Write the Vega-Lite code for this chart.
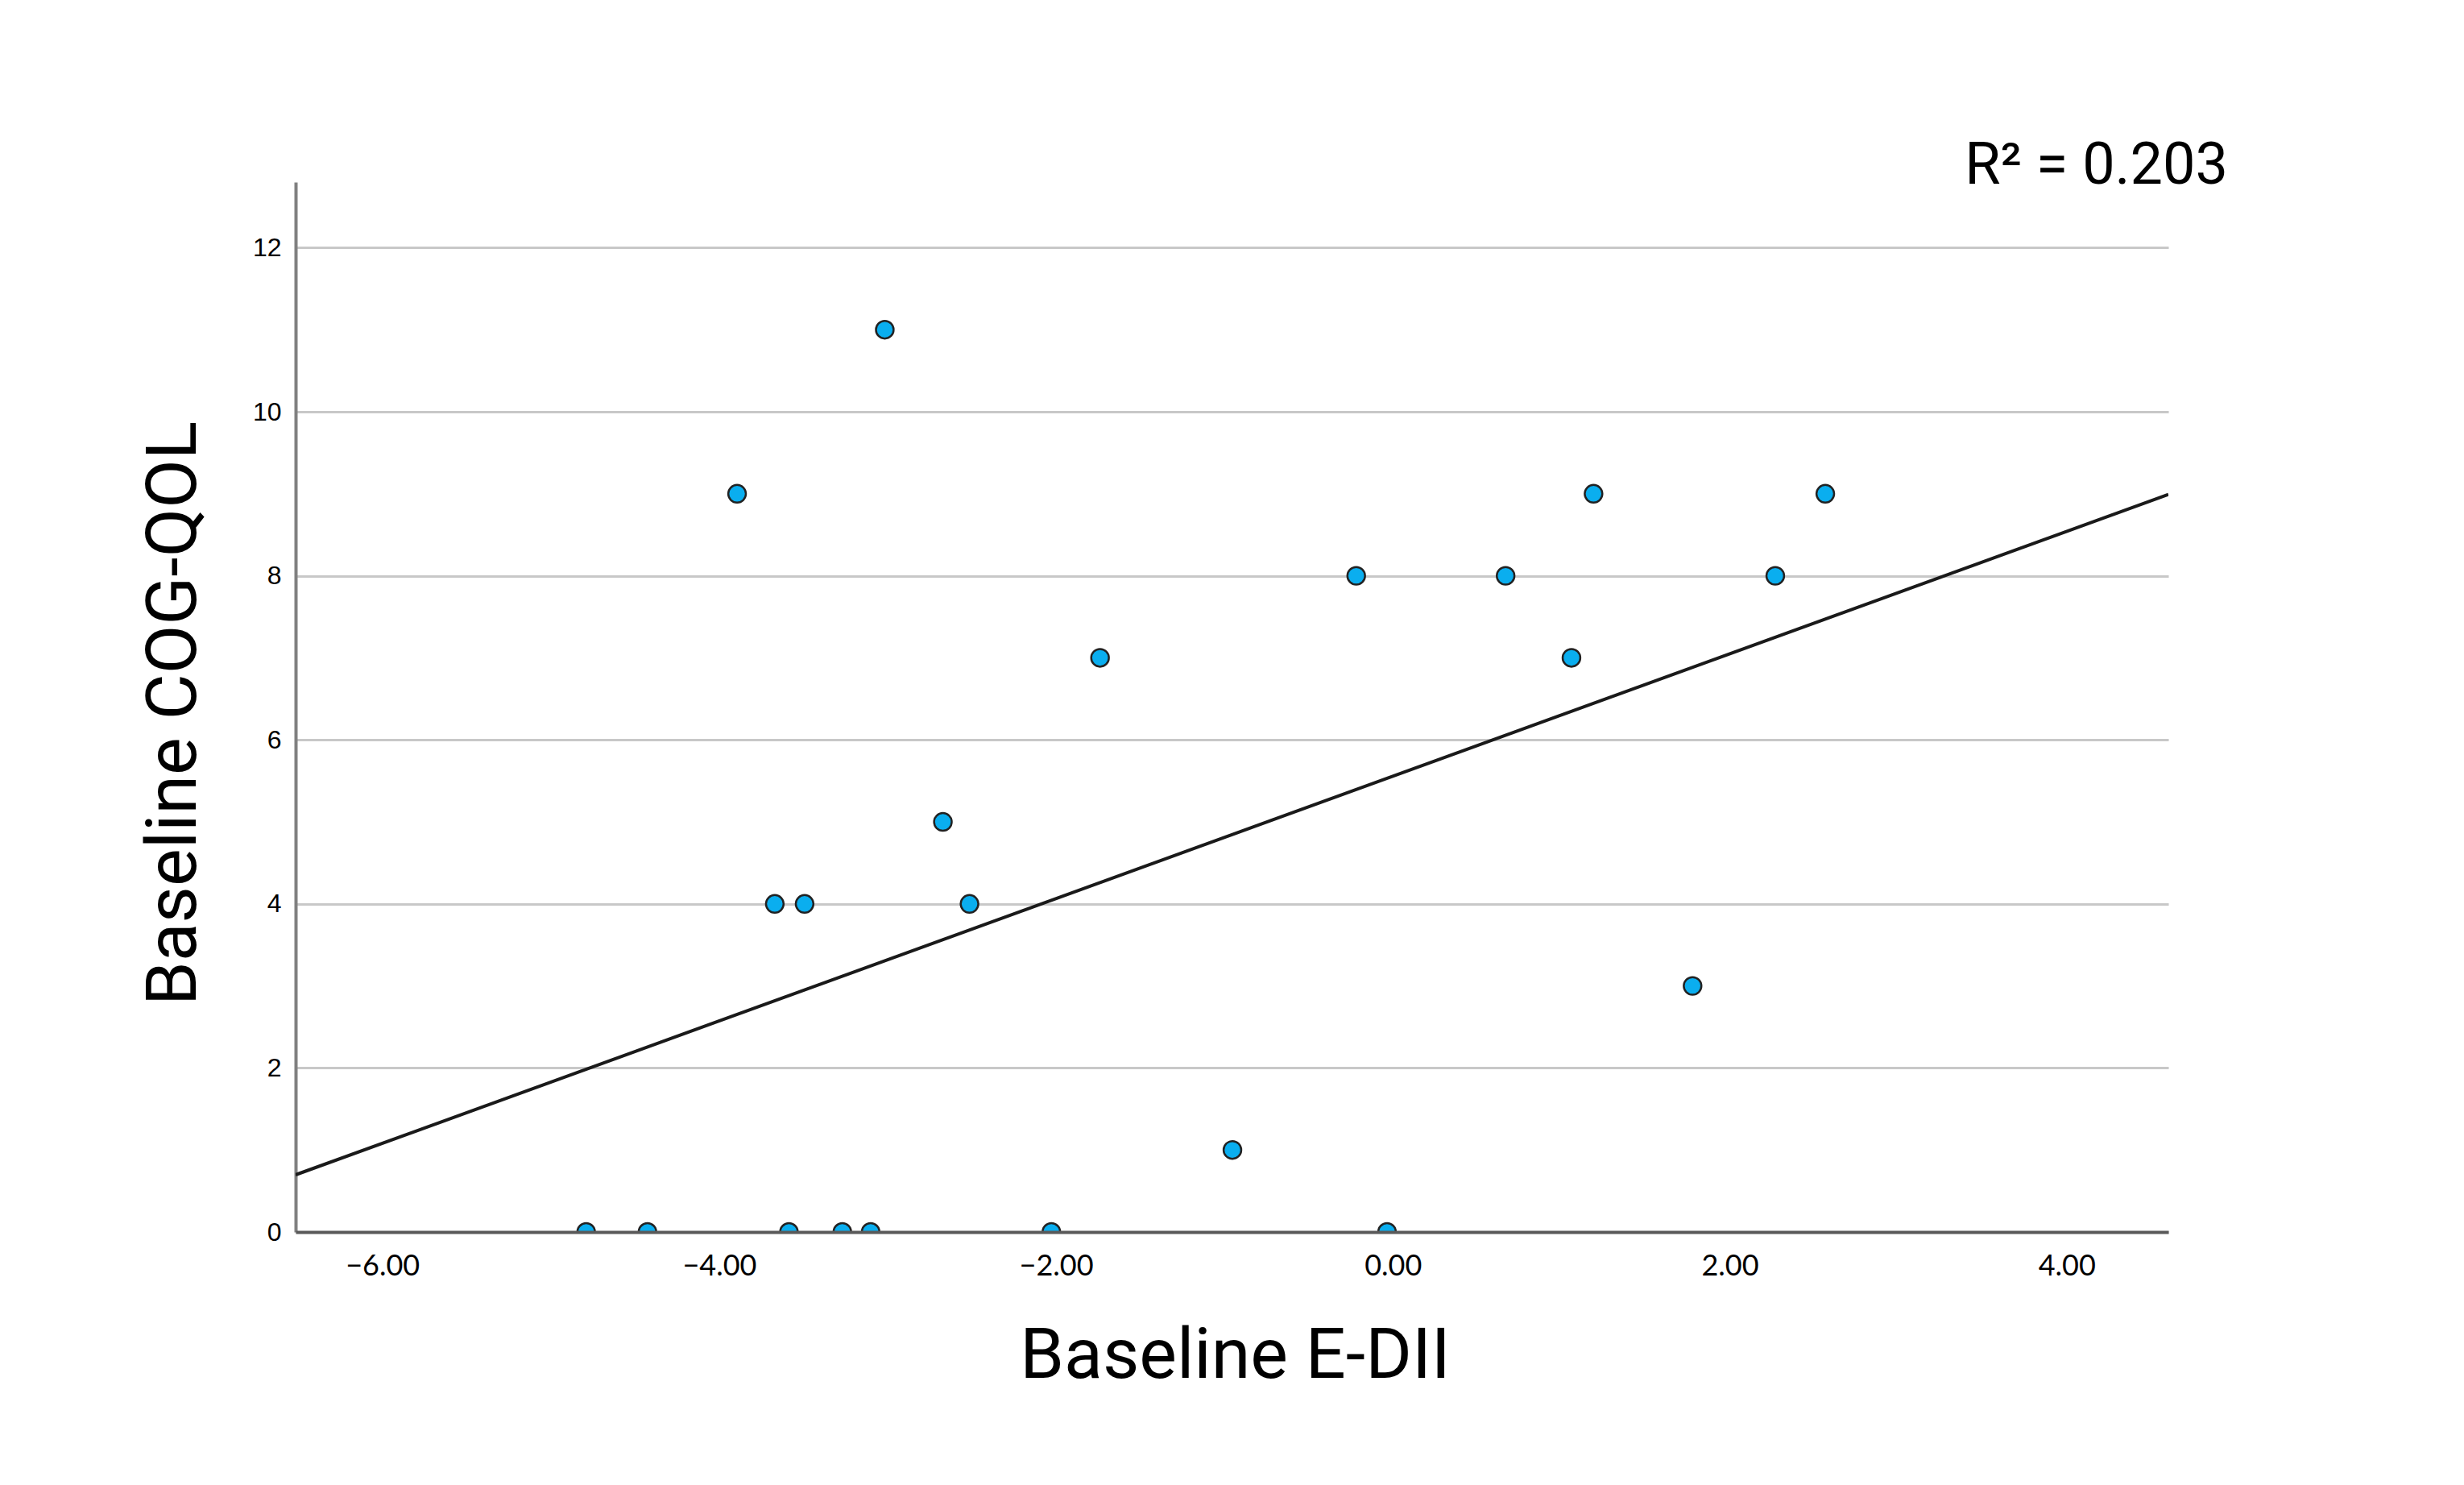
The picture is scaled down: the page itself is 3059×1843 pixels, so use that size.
{
  "$schema": "https://vega.github.io/schema/vega-lite/v6.json",
  "width": 2325,
  "height": 1303,
  "autosize": "none",
  "padding": {"left": 367, "top": 226, "right": 367, "bottom": 314},
  "background": "white",
  "config": {"view": {"stroke": null}},
  "title": {
    "text": "R² = 0.203",
    "anchor": "end",
    "frame": "group",
    "dx": 74,
    "offset": -74,
    "baseline": "alphabetic",
    "font": "Roboto",
    "fontSize": 72,
    "fontWeight": "normal",
    "color": "#000000"
  },
  "data": {
    "values": [
      {"x": -3.017, "y": 11},
      {"x": -3.894, "y": 9},
      {"x": -1.739, "y": 7},
      {"x": -2.672, "y": 5},
      {"x": -3.670, "y": 4},
      {"x": -3.493, "y": 4},
      {"x": -2.514, "y": 4},
      {"x": -0.953, "y": 1},
      {"x": -0.218, "y": 8},
      {"x": 0.669, "y": 8},
      {"x": 1.191, "y": 9},
      {"x": 1.060, "y": 7},
      {"x": 2.567, "y": 9},
      {"x": 2.270, "y": 8},
      {"x": 1.779, "y": 3},
      {"x": -4.790, "y": 0},
      {"x": -4.426, "y": 0},
      {"x": -3.586, "y": 0},
      {"x": -3.269, "y": 0},
      {"x": -3.101, "y": 0},
      {"x": -2.028, "y": 0},
      {"x": -0.035, "y": 0}
    ]
  },
  "encoding": {
    "x": {
      "field": "x",
      "type": "quantitative",
      "scale": {"domain": [-6.515, 4.604], "nice": false, "zero": false},
      "axis": {
        "values": [-6, -4, -2, 0, 2, 4],
        "format": ".2f",
        "title": "Baseline E-DII",
        "ticks": false,
        "grid": false,
        "domainColor": "#5a5a5a",
        "domainWidth": 4,
        "labelFont": "Lato",
        "labelFontSize": 36,
        "labelColor": "#000000",
        "labelPadding": 25,
        "labelFlush": false,
        "titleFont": "Roboto",
        "titleFontSize": 88,
        "titleFontWeight": "normal",
        "titleColor": "#000000",
        "titleBaseline": "alphabetic",
        "titleAlign": "center",
        "titleX": 1166,
        "titleY": 180,
        "zindex": 1
      }
    },
    "y": {
      "field": "y",
      "type": "quantitative",
      "scale": {"domain": [0, 12.8], "nice": false},
      "axis": {
        "values": [0, 2, 4, 6, 8, 10, 12],
        "title": "Baseline COG-QOL",
        "ticks": false,
        "grid": true,
        "gridColor": "#c8c8c8",
        "gridWidth": 3,
        "domainColor": "#808080",
        "domainWidth": 4,
        "labelFont": "Liberation Sans",
        "labelFontSize": 32,
        "labelColor": "#000000",
        "labelPadding": 18,
        "titleFont": "Roboto",
        "titleFontSize": 88,
        "titleFontWeight": "normal",
        "titleColor": "#000000",
        "titleBaseline": "alphabetic",
        "titleAlign": "center",
        "titleAngle": 270,
        "titleX": -125,
        "titleY": 659,
        "zindex": 0
      }
    }
  },
  "layer": [
    {
      "transform": [
        {"regression": "y", "on": "x", "extent": [-6.515, 4.604]}
      ],
      "mark": {"type": "line", "color": "#1a1a1a", "strokeWidth": 4, "clip": true}
    },
    {
      "mark": {
        "type": "circle",
        "size": 480,
        "fill": "#0aaeef",
        "stroke": "#222222",
        "strokeWidth": 2.5,
        "opacity": 1,
        "fillOpacity": 1,
        "clip": true
      }
    }
  ]
}
